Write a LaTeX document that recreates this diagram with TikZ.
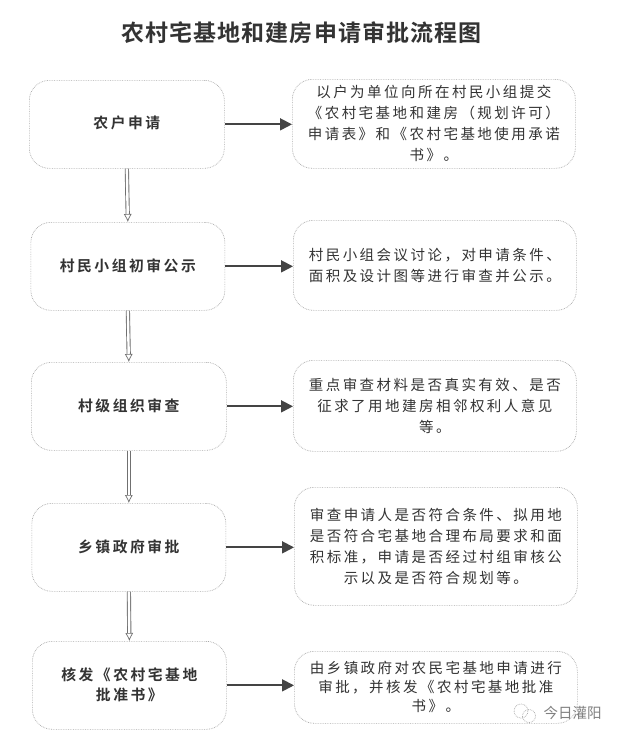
\documentclass[tikz,border=0pt]{standalone}
\usepackage{fontspec}
\usetikzlibrary{arrows.meta}
\newfontfamily\cjkbody[LetterSpace=17]{Noto Sans CJK SC}
\newfontfamily\cjkhead[LetterSpace=17]{Noto Sans CJK SC Bold}
\newfontfamily\cjktitle[LetterSpace=4.5]{Noto Sans CJK SC Bold}
\newfontfamily\cjkplain{Noto Sans CJK SC}
\definecolor{inkc}{HTML}{333333}
\definecolor{boxc}{HTML}{A8A8A8}
\definecolor{arrc}{HTML}{444444}
\definecolor{downc}{HTML}{707070}
\tikzset{x=1pt,y=-1pt,
  roundbox/.style={draw=boxc,line width=0.7pt,densely dotted,rounded corners=20pt,anchor=north west,inner sep=0pt},
  headlabel/.style={text=inkc,align=center,yshift=1pt,font=\cjkhead\fontsize{14.8}{20}\selectfont},
  bodylabel/.style={text=inkc,align=center,font=\cjkbody\fontsize{14.5}{21}\selectfont},
  sidearrow/.style={draw=arrc,line width=1.8pt,-{Triangle[length=12pt,width=12pt]}},
  downarrow/.style={draw=downc,line width=0.9pt,double=white,double distance=2.4pt,-{Latex[open,length=8pt,width=8pt,fill=white,line width=0.7pt]}}
}
\begin{document}
\begin{tikzpicture}
\useasboundingbox (0,0) rectangle (622,739);
\fill[white] (0,0) rectangle (622,739);
\node[text=inkc,font=\cjktitle\fontsize{23}{26}\selectfont] (title) at (301.5,33) {农村宅基地和建房申请审批流程图};
% left column
\node[roundbox,minimum width=195pt,minimum height=88pt] (a1) at (29,80) {};
\node[roundbox,minimum width=194pt,minimum height=88pt] (a2) at (30.5,222) {};
\node[roundbox,minimum width=195pt,minimum height=88pt] (a3) at (31,362) {};
\node[roundbox,minimum width=194pt,minimum height=88pt] (a4) at (31.5,503) {};
\node[roundbox,minimum width=194pt,minimum height=88pt] (a5) at (32,641) {};
\node[headlabel] (la1) at (a1.center) {农户申请};
\node[headlabel] (la2) at (a2.center) {村民小组初审公示};
\node[headlabel] (la3) at (a3.center) {村级组织审查};
\node[headlabel] (la4) at (a4.center) {乡镇政府审批};
\node[headlabel] (la5) at (a5.center) {核发《农村宅基地\\批准书》};
% right column
\node[roundbox,minimum width=283pt,minimum height=89pt] (b1) at (292,79) {};
\node[roundbox,minimum width=283pt,minimum height=90pt] (b2) at (293,220) {};
\node[roundbox,minimum width=283pt,minimum height=91pt] (b3) at (293,360) {};
\node[roundbox,minimum width=283pt,minimum height=118pt] (b4) at (294,487) {};
\node[roundbox,minimum width=283pt,minimum height=72pt] (b5) at (294,651) {};
\node[bodylabel] (lb1) at (b1.center) {以户为单位向所在村民小组提交\\《农村宅基地和建房（规划许可）\\申请表》和《农村宅基地使用承诺\\书》。};
\node[bodylabel] (lb2) at (b2.center) {村民小组会议讨论，对申请条件、\\面积及设计图等进行审查并公示。};
\node[bodylabel] (lb3) at (b3.center) {重点审查材料是否真实有效、是否\\征求了用地建房相邻权利人意见\\等。};
\node[bodylabel] (lb4) at (b4.center) {审查申请人是否符合条件、拟用地\\是否符合宅基地合理布局要求和面\\积标准，申请是否经过村组审核公\\示以及是否符合规划等。};
\node[bodylabel,font=\cjkbody\fontsize{14.5}{19}\selectfont] (lb5) at (b5.center) {由乡镇政府对农民宅基地申请进行\\审批，并核发《农村宅基地批准\\书》。};
% connectors
\foreach \i in {1,...,5} \draw[sidearrow] (a\i.east) -- (b\i.west |- a\i.east);
\foreach \i/\j in {1/2,2/3,3/4,4/5} \draw[downarrow] (a\i.south) -- (a\j.north);
% watermark
\node[text=gray,font=\cjkplain\fontsize{14.5}{16}\selectfont] (wm) at (572.5,713) {今日灌阳};
\coordinate (wa) at (521,711);
\coordinate (wb) at (529,716);
\draw[gray!70,densely dotted,line width=0.7pt] (wa) circle (7pt);
\draw[gray!70,densely dotted,line width=0.7pt] (wb) circle (6.5pt);
\end{tikzpicture}
\end{document}
